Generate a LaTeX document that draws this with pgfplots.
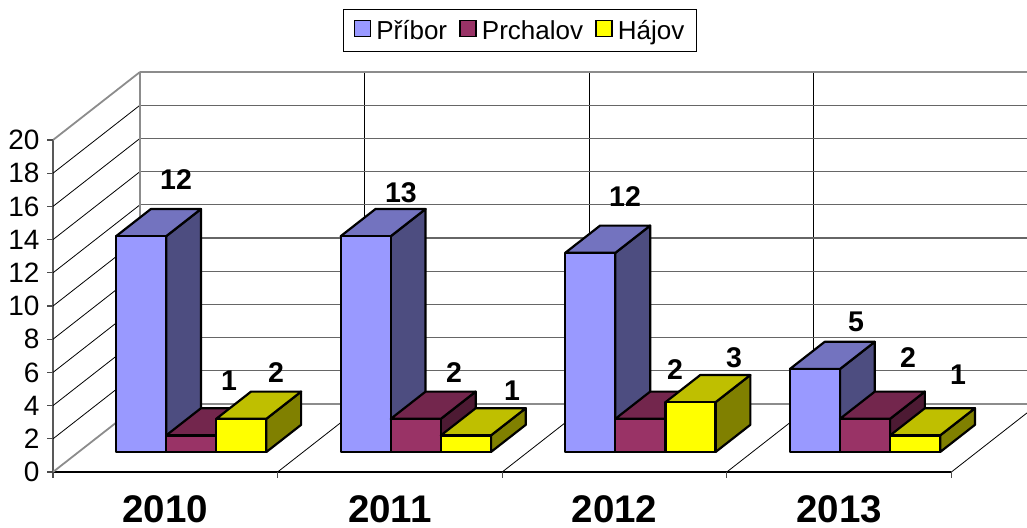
\documentclass[border=0pt]{standalone}
\usepackage{pgfplots}
\pgfplotsset{compat=1.18}
\usepackage{fontspec}
\setmainfont{Liberation Sans}
\definecolor{aF}{HTML}{9999FF}\definecolor{aT}{HTML}{7373BF}\definecolor{aS}{HTML}{4D4D80}
\definecolor{bF}{HTML}{993366}\definecolor{bT}{HTML}{73264D}\definecolor{bS}{HTML}{4D1A33}
\definecolor{cF}{HTML}{FFFF00}\definecolor{cT}{HTML}{BFBF00}\definecolor{cS}{HTML}{808000}
\definecolor{wall}{HTML}{8C8C8C}
% one 3D bar: x0, x1, height, colour prefix
\newcommand{\barthree}[4]{%
 \addplot3[forget plot,draw=black,line width=2.2pt,line join=round,fill=#4S] coordinates {(#2,0.294,0)(#2,0.694,0)(#2,0.694,#3)(#2,0.294,#3)} -- cycle;
 \addplot3[forget plot,draw=black,line width=2.2pt,line join=round,fill=#4T] coordinates {(#1,0.294,#3)(#2,0.294,#3)(#2,0.694,#3)(#1,0.694,#3)} -- cycle;
 \addplot3[forget plot,draw=black,line width=2.2pt,line join=round,fill=#4F] coordinates {(#1,0.294,0)(#2,0.294,0)(#2,0.294,#3)(#1,0.294,#3)} -- cycle;
}
\newcommand{\gl}[7]{\addplot3[forget plot,mark=none,#7] coordinates {(#1,#2,#3)(#4,#5,#6)};}
\newcommand{\lab}[3]{\node[font=\fontsize{28.5}{28.5}\selectfont\bfseries] at (axis cs:#1,0,#2) {#3};}
\begin{document}
\begin{tikzpicture}
\path[use as bounding box] (-53pt,-55pt) rectangle (974pt,472pt);
\begin{axis}[
 at={(0pt,0pt)},anchor=origin,
 x={(224.6pt,0pt)},y={(87pt,68pt)},z={(0pt,16.6pt)},
 xmin=0,xmax=4,ymin=0,ymax=1,zmin=0,zmax=20,
 clip=false,
 axis lines=left,
 axis line style={-},
 y axis line style={draw=none},
 x axis line style={draw=black,line width=1.1pt},
 z axis line style={draw=black!65,line width=1.5pt},
 ytick=\empty,
 xtick={0.5,1.5,2.5,3.5},
 xticklabels={2010,2011,2012,2013},
 minor xtick={0,1,2,3,4},
 ztick={0,2,...,20},
 /pgf/number format/assume math mode=true,
 major tick length=0pt,
 x tick style={draw=none},
 xticklabel style={font=\fontsize{38.5}{38.5}\selectfont\bfseries,anchor=north,yshift=-20pt},
 zticklabel style={font=\fontsize{28}{28}\selectfont,anchor=east,xshift=-10pt},
 legend style={at={(axis cs:2.079,0,26.6)},anchor=center,draw=black,line width=0.8pt,
   font=\fontsize{26}{26}\selectfont,legend columns=3,
   /tikz/every odd column/.append style={column sep=3pt},
   /tikz/every even column/.append style={column sep=10pt},
   inner xsep=10pt,inner ysep=9pt},
 legend image code/.code={\draw[line width=1.8pt,#1] (0pt,-6pt) rectangle (16pt,10pt);},
]
\addlegendimage{draw=black,fill=aF}\addlegendentry{Příbor}
\addlegendimage{draw=black,fill=bF}\addlegendentry{Prchalov}
\addlegendimage{draw=black,fill=cF}\addlegendentry{Hájov}

% left wall lines
\gl{0}{0}{2}{0}{1}{2}{black,line width=0.8pt}
\gl{0}{0}{4}{0}{1}{4}{black,line width=0.8pt}
\gl{0}{0}{6}{0}{1}{6}{black,line width=0.8pt}
\gl{0}{0}{8}{0}{1}{8}{black,line width=0.8pt}
\gl{0}{0}{10}{0}{1}{10}{black,line width=0.8pt}
\gl{0}{0}{12}{0}{1}{12}{black,line width=0.8pt}
\gl{0}{0}{14}{0}{1}{14}{black,line width=0.8pt}
\gl{0}{0}{16}{0}{1}{16}{black,line width=0.8pt}
\gl{0}{0}{18}{0}{1}{18}{black,line width=0.8pt}
\gl{0}{0}{0}{0}{1}{0}{wall,line width=1.8pt}
\gl{0}{0}{20}{0}{1}{20}{wall,line width=1.8pt}
% back wall lines
\gl{1}{1}{0}{1}{1}{20}{black,line width=0.8pt}
\gl{2}{1}{0}{2}{1}{20}{black,line width=0.8pt}
\gl{3}{1}{0}{3}{1}{20}{black,line width=0.8pt}
\gl{0}{1}{2}{3.95}{1}{2}{black!60,line width=1.1pt}
\gl{0}{1}{4}{3.95}{1}{4}{black!60,line width=1.1pt}
\gl{0}{1}{6}{3.95}{1}{6}{black!60,line width=1.1pt}
\gl{0}{1}{8}{3.95}{1}{8}{black!60,line width=1.1pt}
\gl{0}{1}{10}{3.95}{1}{10}{black!60,line width=1.1pt}
\gl{0}{1}{12}{3.95}{1}{12}{black!60,line width=1.1pt}
\gl{0}{1}{14}{3.95}{1}{14}{black!60,line width=1.1pt}
\gl{0}{1}{16}{3.95}{1}{16}{black!60,line width=1.1pt}
\gl{0}{1}{18}{3.95}{1}{18}{black!60,line width=1.1pt}
\gl{0}{1}{0}{3.95}{1}{0}{wall,line width=1.8pt}
\gl{0}{1}{20}{3.95}{1}{20}{wall,line width=1.8pt}
\gl{0}{1}{0}{0}{1}{20}{wall,line width=1.8pt}
% floor lines
\gl{1}{0}{0}{1}{1}{0}{black,line width=0.8pt}
\gl{2}{0}{0}{2}{1}{0}{black,line width=0.8pt}
\gl{3}{0}{0}{3}{1}{0}{black,line width=0.8pt}
\gl{4}{0}{0}{4}{0.874}{0}{black,line width=0.8pt}
% tick marks
\gl{0}{0}{0}{-0.028}{0}{0}{black!70,line width=1.1pt}
\gl{0}{0}{2}{-0.028}{0}{2}{black!70,line width=1.1pt}
\gl{0}{0}{4}{-0.028}{0}{4}{black!70,line width=1.1pt}
\gl{0}{0}{6}{-0.028}{0}{6}{black!70,line width=1.1pt}
\gl{0}{0}{8}{-0.028}{0}{8}{black!70,line width=1.1pt}
\gl{0}{0}{10}{-0.028}{0}{10}{black!70,line width=1.1pt}
\gl{0}{0}{12}{-0.028}{0}{12}{black!70,line width=1.1pt}
\gl{0}{0}{14}{-0.028}{0}{14}{black!70,line width=1.1pt}
\gl{0}{0}{16}{-0.028}{0}{16}{black!70,line width=1.1pt}
\gl{0}{0}{18}{-0.028}{0}{18}{black!70,line width=1.1pt}
\gl{0}{0}{20}{-0.028}{0}{20}{black!70,line width=1.1pt}
\gl{0}{0}{0}{0}{0}{-0.35}{black!70,line width=1.1pt}
\gl{1}{0}{0}{1}{0}{-0.35}{black!70,line width=1.1pt}
\gl{2}{0}{0}{2}{0}{-0.35}{black!70,line width=1.1pt}
\gl{3}{0}{0}{3}{0}{-0.35}{black!70,line width=1.1pt}
\gl{4}{0}{0}{4}{0}{-0.35}{black!70,line width=1.1pt}
% bars
\barthree{0.167}{0.390}{13}{a}\barthree{0.390}{0.613}{1}{b}\barthree{0.613}{0.836}{2}{c}
\barthree{1.167}{1.390}{13}{a}\barthree{1.390}{1.613}{2}{b}\barthree{1.613}{1.836}{1}{c}
\barthree{2.167}{2.390}{12}{a}\barthree{2.390}{2.613}{2}{b}\barthree{2.613}{2.836}{3}{c}
\barthree{3.167}{3.390}{5}{a}\barthree{3.390}{3.613}{2}{b}\barthree{3.613}{3.836}{1}{c}
% data labels
\lab{0.548}{17.6}{12}\lab{0.784}{5.5}{1}\lab{0.993}{5.97}{2}
\lab{1.549}{16.8}{13}\lab{1.786}{5.97}{2}\lab{2.044}{4.9}{1}
\lab{2.547}{16.6}{12}\lab{2.769}{6.2}{2}\lab{3.032}{6.9}{3}
\lab{3.575}{9.04}{5}\lab{3.807}{6.9}{2}\lab{4.03}{5.85}{1}
\end{axis}
\end{tikzpicture}
\end{document}
